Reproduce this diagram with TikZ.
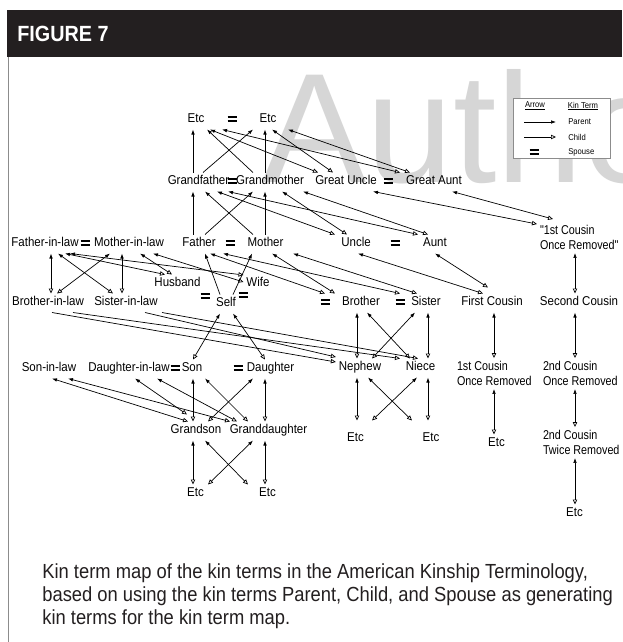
\documentclass[tikz,border=0pt]{standalone}
\usepackage{fontspec}
\setmainfont{Liberation Sans}
\newfontfamily\kinfamily[FakeStretch=0.9]{Liberation Sans}
\newfontfamily\kintwofamily[FakeStretch=0.84]{Liberation Sans}
\usetikzlibrary{arrows.meta}
\definecolor{barcol}{HTML}{231F20}
\definecolor{framecol}{HTML}{8C8C8C}
\definecolor{wmcol}{HTML}{D6D6D6}
\newcommand\kinfont{\kinfamily\fontsize{12.8pt}{15.5pt}\selectfont}
\newcommand\kintwofont{\kintwofamily\fontsize{12.8pt}{15.5pt}\selectfont}
\newcommand\legfont{\kinfamily\fontsize{8.5pt}{10pt}\selectfont}
\newcommand\capfont{\kinfamily\fontsize{20.4pt}{23pt}\selectfont}
\newcommand\figfont{\kinfamily\bfseries\fontsize{22pt}{24pt}\selectfont}
\newcommand\wmfont{\normalfont\fontsize{156pt}{156pt}\selectfont}
\newcommand\spousebars{\vbox{\hrule width 9pt height 1.8pt\vskip 2.4pt\hrule width 9pt height 1.8pt}}
\begin{document}
\begin{tikzpicture}[x=1pt, y=-1pt, line width=0.7pt,
    kin/.style={inner sep=0pt, outer sep=3pt, text height=9pt, text depth=4pt, font=\kinfont},
    kintwo/.style={inner sep=0pt, outer sep=3pt, align=left, anchor=west, font=\kintwofont},
    spouse/.style={inner sep=0pt, outer sep=0pt},
    par/.style={arrows={-Latex[length=5pt,width=3.6pt]}},
    chi/.style={arrows={-Triangle[open,length=5pt,width=4.4pt]}},
    chipar/.style={arrows={Triangle[open,length=5pt,width=4.4pt]-Latex[length=5pt,width=3.6pt]}}]
  \useasboundingbox (0,0) rectangle (622,642);
  \fill[white] (0,0) rectangle (622,642);
  % watermark and frame
  \begin{scope}
    \clip (0,0) rectangle (622,642);
    \node[anchor=base west, inner sep=0pt, text=wmcol, font=\wmfont] (wm) at (262,182) {Author};
  \end{scope}
  \fill[barcol] (7,10) rectangle (622,57);
  \draw[framecol, line width=1pt] (8,57) -- (8,642);
  \node[anchor=west, inner sep=0pt, text=white, font=\figfont] (fig) at (17,34) {FIGURE 7};
  % kin terms
  \draw
    (196,120) node[kin] (etcA){Etc}
    (268,120) node[kin] (etcB){Etc}
    (198.5,182) node[kin] (gfa){Grandfather}
    (270,182) node[kin] (gma){Grandmother}
    (346,182) node[kin] (guncle){Great Uncle}
    (434,182) node[kin] (gaunt){Great Aunt}
    (45,244) node[kin] (fil){Father-in-law}
    (129,244) node[kin] (mil){Mother-in-law}
    (199,244) node[kin] (father){Father}
    (265.5,244) node[kin] (mother){Mother}
    (356,244) node[kin] (uncle){Uncle}
    (435,244) node[kin] (aunt){Aunt}
    (537,237.5) node[kintwo] (cor1){"1st Cousin\\Once Removed"}
    (177.5,284) node[kin] (husband){Husband}
    (258,284) node[kin] (wife){Wife}
    (48,303) node[kin] (bil){Brother-in-law}
    (126,303) node[kin] (sil){Sister-in-law}
    (226,304) node[kin] (self){Self}
    (361,303) node[kin] (brother){Brother}
    (426,303) node[kin] (sister){Sister}
    (492,303) node[kin] (fcousin){First Cousin}
    (579,303) node[kin] (scousin){Second Cousin}
    (49,369) node[kin] (sonil){Son-in-law}
    (129,369) node[kin] (dauil){Daughter-in-law}
    (192,369) node[kin] (son){Son}
    (270.5,369) node[kin] (daughter){Daughter}
    (360,368) node[kin] (nephew){Nephew}
    (420.5,368) node[kin] (niece){Niece}
    (454,373.5) node[kintwo] (cor1b){1st Cousin\\Once Removed}
    (540,373.5) node[kintwo] (cor2){2nd Cousin\\Once Removed}
    (196,431) node[kin] (grandson){Grandson}
    (268.5,431) node[kin] (gdaughter){Granddaughter}
    (355.5,439) node[kin] (etcC){Etc}
    (431,439) node[kin] (etcD){Etc}
    (496.5,444) node[kin] (etcE){Etc}
    (540,442.5) node[kintwo] (ctr2){2nd Cousin\\Twice Removed}
    (195.5,494) node[kin] (etcF){Etc}
    (267.5,494) node[kin] (etcG){Etc}
    (574.5,514) node[kin] (etcH){Etc};
  % spouses
  \node[spouse] (sp1) at (232,119) {\spousebars};
  \node[spouse] (sp2) at (232,181) {\spousebars};
  \node[spouse] (sp3) at (388,181) {\spousebars};
  \node[spouse] (sp4) at (85,243) {\spousebars};
  \node[spouse] (sp5) at (230,243) {\spousebars};
  \node[spouse] (sp6) at (395,243) {\spousebars};
  \node[spouse] (sp7) at (205,296) {\spousebars};
  \node[spouse] (sp8) at (243,295) {\spousebars};
  \node[spouse] (sp9) at (325,302) {\spousebars};
  \node[spouse] (sp10) at (400,302) {\spousebars};
  \node[spouse] (sp11) at (175,368) {\spousebars};
  \node[spouse] (sp12) at (238,368) {\spousebars};
  % parent only
  \begin{scope}[par]
    \draw ([xshift=-5.5pt]gfa.north) to ([xshift=-3pt]etcA.south);
    \draw ([xshift=4.5pt]gfa.north) to ([xshift=-15pt]etcB.south);
    \draw ([xshift=-17pt]gma.north) to ([xshift=11pt]etcA.south);
    \draw ([xshift=-5pt]gma.north) to ([xshift=-3pt]etcB.south);
    \draw ([xshift=-6pt]father.north) to ([xshift=-5.5pt]gfa.south);
    \draw ([xshift=6pt]father.north) to ([xshift=-17pt]gma.south);
    \draw ([xshift=-12.5pt]mother.north) to ([xshift=6.5pt]gfa.south);
    \draw ([xshift=-0.5pt]mother.north) to ([xshift=-5pt]gma.south);
    \draw ([xshift=-6pt]self.north) to ([xshift=6pt]father.south);
    \draw ([xshift=7pt]self.north) to ([xshift=-13.5pt]mother.south);
  \end{scope}
  % child and parent
  \begin{scope}[chipar]
    \draw ([xshift=-28pt]guncle.north) to ([xshift=14pt]etcA.south);
    \draw ([xshift=-13pt]guncle.north) to ([xshift=4pt]etcB.south);
    \draw ([xshift=-34pt]gaunt.north) to ([xshift=26pt]etcA.south);
    \draw ([xshift=-24pt]gaunt.north) to ([xshift=20pt]etcB.south);
    \draw ([xshift=-21pt]uncle.north) to ([xshift=18.5pt]gfa.south);
    \draw ([xshift=-9pt]uncle.north) to ([xshift=12pt]gma.south);
    \draw ([xshift=-17pt]aunt.north) to ([xshift=29.5pt]gfa.south);
    \draw ([xshift=-7pt]aunt.north) to ([xshift=33pt]gma.south);
    \draw ([yshift=-2pt]cor1.north west) to ([xshift=27pt]guncle.south);
    \draw ([xshift=16pt,yshift=3pt]cor1.north west) to ([xshift=18pt]gaunt.south);
    \draw ([xshift=-9pt]fcousin.north) to ([xshift=2pt]uncle.south);
    \draw ([xshift=-4pt,yshift=6pt]fcousin.north) to (aunt.south);
    \draw ([xshift=-4pt]scousin.north) to ([xshift=38pt]cor1.south west);
    \draw ([xshift=35pt]cor2.north west) to ([xshift=-4pt]scousin.south);
    \draw ([xshift=35pt]ctr2.north west) to ([xshift=35pt]cor2.south west);
    \draw ([xshift=0.5pt]etcH.north) to ([xshift=35pt]ctr2.south west);
    \draw ([xshift=40pt]cor1b.north west) to ([xshift=2pt]fcousin.south);
    \draw ([xshift=-2.5pt]etcE.north) to ([xshift=40pt]cor1b.south west);
    \draw ([xshift=3pt]bil.north) to ([xshift=6pt]fil.south);
    \draw ([xshift=-4pt]sil.north) to ([xshift=-7pt]mil.south);
    \draw ([xshift=-13pt]sil.north) to ([xshift=13pt]fil.south);
    \draw ([xshift=9pt]bil.north) to ([xshift=-19pt]mil.south);
    \draw ([xshift=-12.5pt]husband.north) to ([xshift=20pt]fil.south);
    \draw ([xshift=-5.5pt]husband.north) to ([xshift=11pt]mil.south);
    \draw ([yshift=9pt]wife.west) to ([xshift=25pt]fil.south);
    \draw ([yshift=2pt]wife.west) to ([xshift=24pt]mil.south);
    \draw ([xshift=-36pt]brother.north) to ([xshift=11pt]father.south);
    \draw ([xshift=-26pt]sister.north) to ([xshift=24pt]father.south);
    \draw ([xshift=-26pt]brother.north) to ([xshift=6.5pt]mother.south);
    \draw ([xshift=-9pt]sister.north) to ([xshift=27.5pt]mother.south);
    \draw ([xshift=1pt]son.north) to ([xshift=-6pt]self.south);
    \draw ([xshift=-5.5pt]daughter.north) to ([xshift=7pt]self.south);
    \draw ([xshift=-3pt]nephew.north) to ([xshift=-4pt]brother.south);
    \draw ([xshift=7.5pt]niece.north) to ([xshift=2pt]sister.south);
    \draw ([xshift=12pt]nephew.north) to ([xshift=-11pt]sister.south);
    \draw ([xshift=-10.5pt]niece.north) to ([xshift=6pt]brother.south);
    \draw ([xshift=-8pt]grandson.north) to ([xshift=3pt]sonil.south);
    \draw ([xshift=-38.5pt]gdaughter.north) to ([xshift=19pt]sonil.south);
    \draw ([xshift=-9pt,yshift=7pt]grandson.north) to ([xshift=6pt]dauil.south);
    \draw ([xshift=-31.5pt]gdaughter.north) to ([xshift=28pt]dauil.south);
    \draw ([xshift=-3pt]grandson.north) to ([xshift=1pt]son.south);
    \draw ([xshift=-20.5pt]gdaughter.north) to ([xshift=13pt]son.south);
    \draw ([xshift=12pt]grandson.north) to ([xshift=-17.5pt]daughter.south);
    \draw ([xshift=-3.5pt]gdaughter.north) to ([xshift=-5.5pt]daughter.south);
    \draw ([xshift=-2.5pt]etcF.north) to ([xshift=-3pt]grandson.south);
    \draw ([xshift=-19.5pt]etcG.north) to ([xshift=9pt]grandson.south);
    \draw ([xshift=12.5pt]etcF.north) to ([xshift=-15.5pt]gdaughter.south);
    \draw ([xshift=-2.5pt]etcG.north) to ([xshift=-3.5pt]gdaughter.south);
    \draw ([xshift=1.5pt,yshift=9pt]etcC.north) to ([xshift=-3pt]nephew.south);
    \draw ([xshift=-19pt,yshift=9pt]etcD.north) to ([xshift=8pt]nephew.south);
    \draw ([xshift=16.5pt,yshift=9pt]etcC.north) to ([xshift=-3.5pt]niece.south);
    \draw ([xshift=-3pt,yshift=9pt]etcD.north) to ([xshift=7.5pt]niece.south);
  \end{scope}
  % child only
  \begin{scope}[chi]
    \draw ([xshift=4pt]bil.south) to ([yshift=6pt]nephew.west);
    \draw ([xshift=25pt]bil.south) to ([xshift=-20.5pt]niece.north);
    \draw ([xshift=19pt]sil.south) to ([yshift=11pt]nephew.west);
    \draw ([xshift=36pt]sil.south) to ([xshift=-2.5pt]niece.north);
  \end{scope}
  % legend
  \node[draw=framecol, line width=0.5pt, fill=white, minimum width=97pt, minimum height=60pt, inner sep=0pt] (legend) at (561.5,128) {};
  \node[font=\legfont, inner sep=0pt] (lgarrow) at (535,106) {\underline{Arrow}};
  \node[font=\legfont, inner sep=0pt] (lgkin) at (583,106) {\underline{Kin Term}};
  \node[font=\legfont, anchor=west, inner sep=0pt] (lgpar) at (568,122) {Parent};
  \node[font=\legfont, anchor=west, inner sep=0pt] (lgchi) at (568,137) {Child};
  \node[font=\legfont, anchor=west, inner sep=0pt] (lgspo) at (568,152) {Spouse};
  \draw[par] ([xshift=-44pt]lgpar.west) to ([xshift=-12pt]lgpar.west);
  \draw[chi] ([xshift=-44pt]lgchi.west) to ([xshift=-12pt]lgchi.west);
  \node[spouse] (lgsp) at (534,152) {\spousebars};
  % caption
  \node[anchor=base west, inner sep=0pt, font=\capfont, text=barcol] (cap1) at (42,578) {Kin term map of the kin terms in the American Kinship Terminology,};
  \node[anchor=base west, inner sep=0pt, font=\capfont, text=barcol] (cap2) at (42,601) {based on using the kin terms Parent, Child, and Spouse as generating};
  \node[anchor=base west, inner sep=0pt, font=\capfont, text=barcol] (cap3) at (42,624) {kin terms for the kin term map.};
\end{tikzpicture}
\end{document}
